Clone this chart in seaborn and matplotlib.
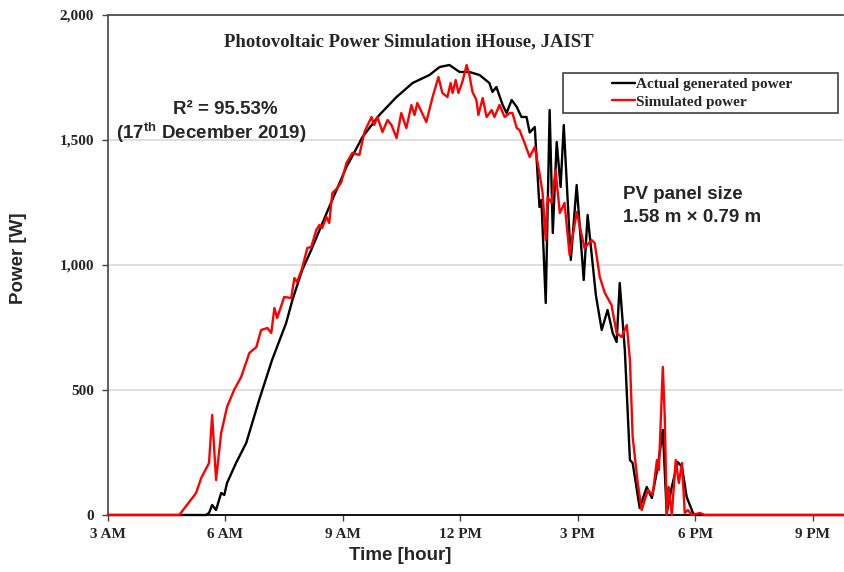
import matplotlib
matplotlib.use("Agg")
import matplotlib.pyplot as plt
import seaborn as sns
import pandas as pd
from matplotlib.lines import Line2D
from matplotlib.patches import Rectangle

# ---------------- data ----------------
hours_actual = [3.0, 5.50, 5.58, 5.66, 5.76, 5.89, 5.97, 6.04, 6.27, 6.53, 6.86, 7.19, 7.55, 7.71, 7.96,
                8.19, 8.65, 9.09, 9.50, 9.93, 10.37, 10.78, 11.21, 11.47, 11.72, 11.98, 12.23, 12.49,
                12.74, 12.82, 12.92, 13.08, 13.18, 13.31, 13.44, 13.56, 13.69, 13.77, 13.90, 14.02,
                14.07, 14.18, 14.28, 14.36, 14.46, 14.56, 14.64, 14.82, 14.97, 15.15, 15.25, 15.46,
                15.61, 15.76, 15.89, 15.99, 16.07, 16.20, 16.33, 16.40, 16.58, 16.76, 16.89, 17.04,
                17.17, 17.27, 17.40, 17.55, 17.66, 17.78, 17.94, 18.00, 21.80]
power_actual = [0, 0, 8, 40, 20, 88, 80, 128, 208, 288, 460, 620, 768, 860, 980,
                1060, 1232, 1392, 1512, 1600, 1672, 1728, 1760, 1792, 1800, 1772, 1772, 1760,
                1728, 1692, 1712, 1640, 1608, 1660, 1632, 1592, 1592, 1530, 1552, 1232,
                1260, 848, 1620, 1128, 1492, 1312, 1560, 1020, 1320, 940, 1200, 880,
                740, 820, 728, 692, 928, 660, 220, 208, 28, 112, 68, 192,
                340, 8, 112, 212, 192, 72, 8, 0, 0]

hours_sim = [3.0, 4.82, 5.25, 5.38, 5.58, 5.66, 5.76, 5.89, 6.04, 6.22, 6.40, 6.61, 6.79, 6.91, 7.07,
             7.17, 7.25, 7.32, 7.50, 7.68, 7.76, 7.83, 7.96, 8.09, 8.19, 8.32, 8.40, 8.47, 8.58,
             8.65, 8.73, 8.86, 8.96, 9.09, 9.24, 9.42, 9.55, 9.73, 9.80, 9.88, 10.01, 10.14, 10.24,
             10.37, 10.49, 10.62, 10.75, 10.83, 10.90, 11.01, 11.13, 11.29, 11.44, 11.54, 11.67,
             11.75, 11.80, 11.88, 11.95, 12.05, 12.16, 12.23, 12.31, 12.41, 12.46, 12.57, 12.67,
             12.80, 12.87, 13.00, 13.13, 13.26, 13.33, 13.44, 13.51, 13.64, 13.77, 13.90, 14.02,
             14.10, 14.18, 14.23, 14.33, 14.43, 14.54, 14.66, 14.79, 14.97, 15.17, 15.35, 15.43,
             15.56, 15.69, 15.86, 15.99, 16.12, 16.25, 16.33, 16.40, 16.53, 16.63, 16.79, 16.91,
             17.02, 17.07, 17.17, 17.22, 17.27, 17.32, 17.40, 17.50, 17.58, 17.66, 17.73, 17.81,
             17.91, 18.12, 18.24, 21.80]
power_sim = [0, 0, 88, 148, 208, 400, 140, 328, 432, 500, 552, 648, 672, 740, 748,
             728, 828, 788, 872, 868, 948, 932, 988, 1068, 1072, 1140, 1160, 1148, 1192,
             1168, 1288, 1308, 1332, 1408, 1448, 1440, 1532, 1592, 1560, 1592, 1532, 1580, 1560,
             1508, 1608, 1548, 1640, 1600, 1648, 1612, 1572, 1672, 1752, 1688, 1672,
             1728, 1688, 1740, 1688, 1732, 1800, 1760, 1692, 1660, 1600, 1668, 1592,
             1620, 1592, 1640, 1592, 1608, 1608, 1548, 1540, 1488, 1432, 1472, 1368,
             1288, 1100, 1272, 1248, 1380, 1208, 1248, 1040, 1212, 1068, 1100, 1088,
             952, 888, 840, 728, 712, 760, 620, 312, 128, 20, 100, 80,
             220, 180, 592, 392, 0, 112, 0, 220, 128, 208, 8, 20,
             0, 8, 0, 0]

series_names = ["Actual generated power", "Simulated power"]
series_colors = ["#000000", "#ff0000"]
x_tick_hours = [3, 6, 9, 12, 15, 18, 21]
x_tick_labels = ["3 AM", "6 AM", "9 AM", "12 PM", "3 PM", "6 PM", "9 PM"]
y_ticks = [0, 500, 1000, 1500, 2000]

df = pd.concat([
    pd.DataFrame({"hour": hours_actual, "power": power_actual, "series": series_names[0]}),
    pd.DataFrame({"hour": hours_sim, "power": power_sim, "series": series_names[1]}),
], ignore_index=True)

# ---------------- figure ----------------
sns.set_style("white")
plt.rcParams["mathtext.fontset"] = "custom"
plt.rcParams["mathtext.bf"] = "Liberation Sans:bold"
plt.rcParams["mathtext.rm"] = "Liberation Sans:bold"

W, H = 844, 572
fig = plt.figure(figsize=(W / 100, H / 100), dpi=100)
ax = fig.add_axes([108 / W, 1 - 515 / H, (843 - 108) / W, 500 / H])

sns.lineplot(data=df, x="hour", y="power", hue="series",
             palette=dict(zip(series_names, series_colors)),
             estimator=None, sort=False, linewidth=1.7, ax=ax, legend=False, zorder=3)
for ln in ax.get_lines():
    ln.set_clip_on(False)
    ln.set_solid_joinstyle("round")

ax.set_xlim(3, 3 + (843 - 109) / 39.1)
ax.set_ylim(0, 2000)
ax.set_xticks(x_tick_hours)
ax.set_xticklabels(x_tick_labels)
ax.set_yticks(y_ticks)
ax.set_yticklabels([f"{v:,}" for v in y_ticks])

for lab in ax.get_xticklabels() + ax.get_yticklabels():
    lab.set_fontfamily("Liberation Serif")
    lab.set_fontweight("bold")
    lab.set_fontsize(11)
ax.tick_params(axis="x", direction="out", length=4, width=1, color="#404040", pad=5, bottom=True)
ax.tick_params(axis="y", direction="out", length=4, width=1, color="#404040", pad=6, left=True)

ax.yaxis.grid(True, color="#d9d9d9", linewidth=1.2)
ax.xaxis.grid(False)
ax.set_axisbelow(True)

for side in ["left", "top"]:
    ax.spines[side].set_visible(True)
    ax.spines[side].set_color("#505050")
    ax.spines[side].set_linewidth(1.3)
ax.spines["bottom"].set_color("#000000")
ax.spines["bottom"].set_linewidth(1.3)
ax.spines["right"].set_visible(False)

ax.set_xlabel("Time [hour]", family="Liberation Sans", weight="bold", size=13.5)
ax.set_ylabel("Power [W]", family="Liberation Sans", weight="bold", size=13.5)
ax.xaxis.label.set_va("center")
ax.yaxis.label.set_va("center")
ax.xaxis.set_label_coords((400 - 108) / (843 - 108), -(555 - 515) / 500)
ax.yaxis.set_label_coords(-(108 - 19) / (843 - 108), (515 - 258) / 500)

# texts
fig.text(409 / W, 1 - 42 / H, "Photovoltaic Power Simulation iHouse, JAIST",
         family="Liberation Serif", weight="bold", size=13.5, ha="center", va="center")
fig.text(225 / W, 1 - 110 / H, "R² = 95.53%", family="Liberation Sans", weight="bold",
         size=13.5, ha="center", va="center")
fig.text(211 / W, 1 - 133 / H, r"(17$^{\mathbf{th}}$ December 2019)", family="Liberation Sans",
         weight="bold", size=13.5, ha="center", va="center")
fig.text(623 / W, 1 - 195 / H, "PV panel size", family="Liberation Sans", weight="bold",
         size=13.5, ha="left", va="center")
fig.text(623 / W, 1 - 217 / H, "1.58 m × 0.79 m", family="Liberation Sans", weight="bold",
         size=13.5, ha="left", va="center")

# legend
handles = [Line2D([0], [0], color=c, linewidth=1.7) for c in series_colors]
leg = fig.legend(handles, series_names, loc="center left",
                 bbox_to_anchor=(612 / W, 1 - 93 / H), frameon=False,
                 prop=dict(family="Liberation Serif", weight="bold", size=11),
                 handlelength=1.5, handletextpad=0.1, labelspacing=0.25,
                 borderpad=0, borderaxespad=0)
fig.add_artist(Rectangle((563 / W, 1 - 113 / H), (838 - 563) / W, 40 / H,
                         transform=fig.transFigure, fill=False, edgecolor="#404040",
                         linewidth=1.2))

fig.savefig("out.png", dpi=100)
